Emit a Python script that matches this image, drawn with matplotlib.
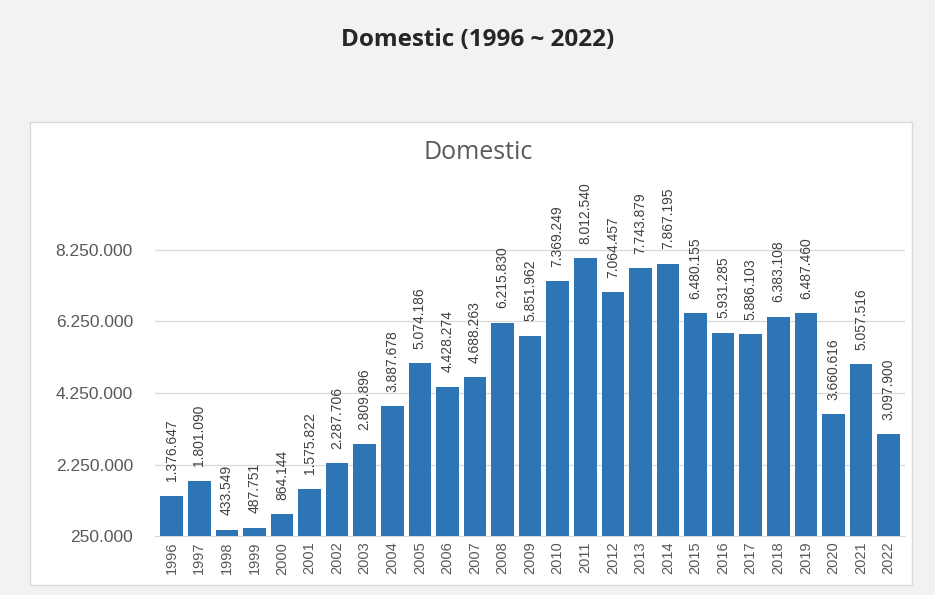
import matplotlib
matplotlib.use("Agg")
import matplotlib.pyplot as plt
from matplotlib.patches import Rectangle

# data
years = [str(y) for y in range(1996, 2023)]
values = [1376647, 1801090, 433549, 487751, 864144, 1575822, 2287706,
          2809896, 3887678, 5074186, 4428274, 4688263, 6215830, 5851962,
          7369249, 8012540, 7064457, 7743879, 7867195, 6480155, 5931285,
          5886103, 6383108, 6487460, 3660616, 5057516, 3097900]
yticks = [250000, 2250000, 4250000, 6250000, 8250000]

def dots(v):
    return f"{v:,}".replace(",", ".")

plt.rcParams['font.family'] = ['Liberation Sans', 'DejaVu Sans']

fig = plt.figure(figsize=(9.35, 5.95), dpi=100, facecolor="#f2f2f2")

# white chart panel, behind the axes
panel = Rectangle((0.032, 0.017), 0.943, 0.778, transform=fig.transFigure,
                  facecolor="white", edgecolor="#d9d9d9", linewidth=1, zorder=-5)
fig.patches.append(panel)

fig.text(0.511, 0.933, "Domestic (1996 ~ 2022)", ha="center", va="center",
         fontsize=17.5, fontweight="bold", color="#262626", family="Open Sans")
fig.text(0.511, 0.744, "Domestic", ha="center", va="center",
         fontsize=18, color="#595959", family="Open Sans")

ax = fig.add_axes([0.166, 0.099, 0.802, 0.602])
ax.set_facecolor("none")

x = range(len(years))
bars = ax.bar(x, [v - yticks[0] for v in values], bottom=yticks[0],
              width=0.82, color="#2E75B6", zorder=3)

for xi, v in zip(x, values):
    ax.text(xi, v + 400000, dots(v), rotation=90, ha="center", va="bottom",
            fontsize=10, color="#404040", zorder=4)

ax.set_xlim(-0.6, len(years) - 0.4)
ax.set_ylim(250000, 10260000)
ax.set_yticks(yticks)
ax.set_yticklabels([dots(t) for t in yticks], fontsize=12.5, color="#595959")
ax.set_xticks(list(x))
ax.set_xticklabels(years, rotation=90, fontsize=10.5, color="#595959")
ax.tick_params(axis="y", length=0, pad=16)
ax.tick_params(axis="x", length=0, pad=4)

ax.grid(axis="y", color="#d9d9d9", linewidth=0.9, zorder=0)
for s in ["top", "right", "left"]:
    ax.spines[s].set_visible(False)
ax.spines["bottom"].set_color("#d9d9d9")

fig.savefig("out.png", dpi=100, facecolor=fig.get_facecolor())
